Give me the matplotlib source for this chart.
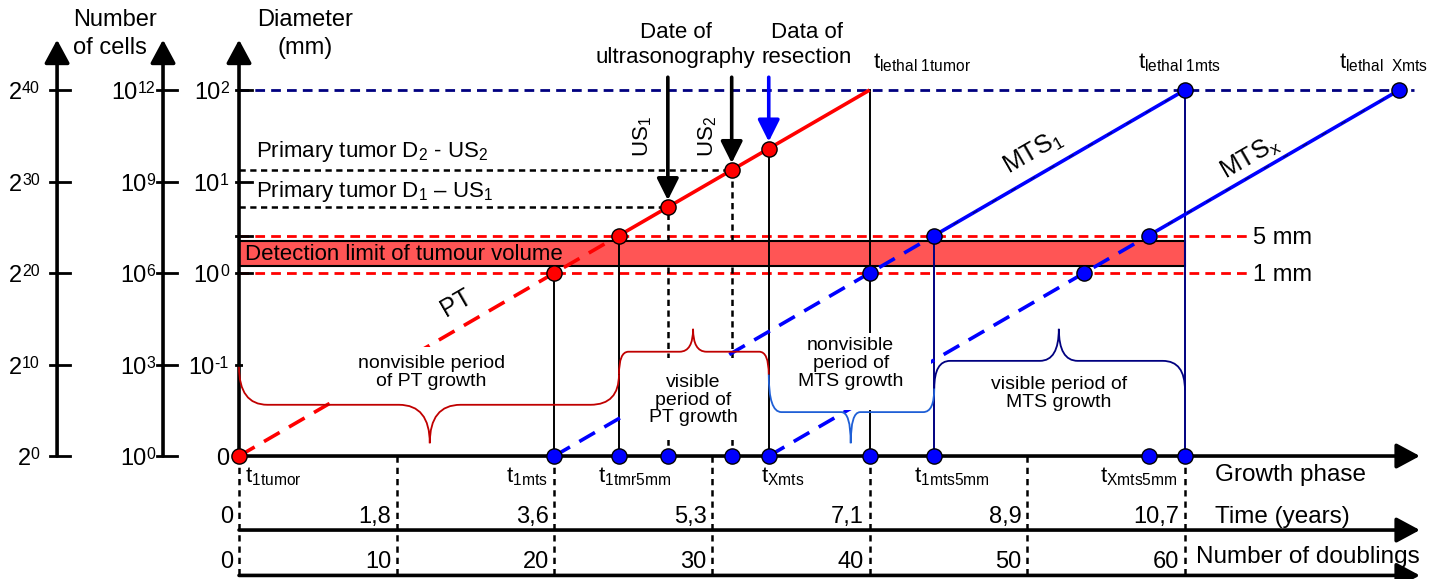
import matplotlib
matplotlib.use('Agg')
import matplotlib.pyplot as plt
from matplotlib.path import Path
from matplotlib.patches import PathPatch, Rectangle

plt.rcParams['font.family'] = 'Liberation Sans'
plt.rcParams['mathtext.fontset'] = 'custom'
plt.rcParams['mathtext.rm'] = 'Liberation Sans'
plt.rcParams['mathtext.it'] = 'Liberation Sans:italic'
plt.rcParams['mathtext.bf'] = 'Liberation Sans:bold'

# horizontal scale: number of doublings, with the matching time in years
doubling_ticks = [0, 10, 20, 30, 40, 50, 60]
doubling_labels = ['0', '10', '20', '30', '40', '50', '60']
year_labels = ['0', '1,8', '3,6', '5,3', '7,1', '8,9', '10,7']

# vertical scale: log2 of the cell count
size_levels = [0, 10, 20, 30, 40]
pow2_exp = ['0', '10', '20', '30', '40']
cell_exp = ['0', '3', '6', '9', '12']
diam_exp = [None, '-1', '0', '1', '2']

one_mm = 20.0
five_mm = 24.1
lethal = 40.0
band_lo, band_hi = 20.8, 23.5

# onset of each tumour (doublings)
pt_start = 0.0
mts1_start = 20.0
mtsx_start = 33.6

# examinations on the primary tumour
us1 = 27.2
us2 = 31.25
resection = 33.6

RED = '#ff0000'
DARKRED = '#c00000'
BLUE = '#0000ff'
NAVY = '#000080'
MIDBLUE = '#1f5fd6'

fig = plt.figure(figsize=(14.38, 5.79), dpi=100)
ax = fig.add_axes([0, 0, 1, 1])
ax.set_xlim(-15.16, 76.05)
ax.set_ylim(-13.44, 49.84)
ax.axis('off')
renderer = fig.canvas.get_renderer()

POW2_X = -11.54
CELLS_X = -4.82
AXIS_TOP = 45.5
AXIS_RIGHT = 74.9
TIME_Y = -8.09
DBL_Y = -13.05
SUP_RAISE = 0.66


def arrow(x0, y0, x1, y1, color='k', lw=2.4, hl=1.0, hw=0.55, scale=11, shrink=0, z=3):
    ax.annotate('', xy=(x1, y1), xytext=(x0, y0),
                arrowprops=dict(arrowstyle=f'-|>,head_length={hl},head_width={hw}',
                                color=color, lw=lw, mutation_scale=scale,
                                shrinkA=0, shrinkB=shrink), zorder=z)


def power_label(x_right, y_base, base, exp):
    """Right-aligned 'base^exp' with the exponent top-aligned to the base."""
    if exp is None:
        ax.text(x_right, y_base, base, ha='right', va='baseline', fontsize=17)
        return
    s = ax.text(x_right, y_base + SUP_RAISE, exp, ha='right', va='baseline', fontsize=11.5)
    w = s.get_window_extent(renderer).width
    xp, yp = ax.transData.transform((x_right, y_base))
    xb = ax.transData.inverted().transform((xp - w, yp))[0]
    ax.text(xb, y_base, base, ha='right', va='baseline', fontsize=17)


def brace(x0, y0, x1, y1, ylev, xc, ytip, r0, r1, rc, color):
    verts = [(x0, y0), (x0, ylev), (x0 + r0, ylev),
             (xc - rc, ylev),
             (xc, ylev), (xc, ytip),
             (xc, ylev), (xc + rc, ylev),
             (x1 - r1, ylev),
             (x1, ylev), (x1, y1)]
    codes = [Path.MOVETO, Path.CURVE3, Path.CURVE3, Path.LINETO,
             Path.CURVE3, Path.CURVE3, Path.CURVE3, Path.CURVE3,
             Path.LINETO, Path.CURVE3, Path.CURVE3]
    ax.add_patch(PathPatch(Path(verts, codes), fill=False, ec=color, lw=1.3, zorder=5))


# vertical axes
for xa in (POW2_X, CELLS_X, 0):
    arrow(xa, 0, xa, AXIS_TOP, lw=2.6, hl=1.3, hw=0.7)
for lev, e2, ec, ed in zip(size_levels, pow2_exp, cell_exp, diam_exp):
    ax.plot([POW2_X - 0.45, POW2_X + 0.85], [lev, lev], color='k', lw=2)
    ax.plot([CELLS_X - 0.4, CELLS_X + 0.9], [lev, lev], color='k', lw=2)
    if lev > 0:
        ax.plot([-0.2, 0.8], [lev, lev], color='k', lw=2)
    power_label(POW2_X - 1.1, lev - 1.0, '2', e2)
    power_label(CELLS_X - 0.5, lev - 1.0, '10', ec)
    power_label(-0.65, lev - 1.0, '10' if ed is not None else '0', ed)
ax.plot([-0.2, 0.8], [five_mm, five_mm], color='k', lw=2)

ax.text(-10.5, 47.6, 'Number', ha='left', va='center', fontsize=17)
ax.text(-10.5, 44.6, 'of cells', ha='left', va='center', fontsize=17)
ax.text(4.2, 47.6, 'Diameter', ha='center', va='center', fontsize=17)
ax.text(4.2, 44.6, '(mm)', ha='center', va='center', fontsize=17)

# horizontal axes
for ya in (0, TIME_Y, DBL_Y):
    arrow(0, ya, AXIS_RIGHT, ya, lw=2.6, hl=1.3, hw=0.7)
for d, yl, dl in zip(doubling_ticks, year_labels, doubling_labels):
    ax.plot([d, d], [0, -14], color='k', lw=1.8, ls=(0, (2.5, 2)), zorder=1)
    ax.text(d - 0.35, -7.32, yl, ha='right', va='baseline', fontsize=17)
    ax.text(d - 0.35, -12.2, dl, ha='right', va='baseline', fontsize=17)
ax.text(61.9, -2.73, 'Growth phase', ha='left', va='baseline', fontsize=17.5)
ax.text(61.9, -7.32, 'Time (years)', ha='left', va='baseline', fontsize=17.5)
ax.text(60.7, -11.7, 'Number of doublings', ha='left', va='baseline', fontsize=17.5)

# reference levels
ax.plot([0, AXIS_RIGHT - 0.4], [lethal, lethal], color=NAVY, lw=2, ls=(0, (3.5, 2.2)), zorder=1)
for lev, lab in ((five_mm, '5 mm'), (one_mm, '1 mm')):
    ax.plot([0, 64.0], [lev, lev], color=RED, lw=2, ls=(0, (3.5, 2.2)), zorder=1)
    ax.text(64.3, lev - 0.9, lab, ha='left', va='baseline', fontsize=17)
ax.add_patch(Rectangle((0, band_lo), mts1_start + lethal, band_hi - band_lo,
                       fc='#ff5555', ec='k', lw=1.5, zorder=1.5))
ax.text(0.4, 21.45, 'Detection limit of tumour volume', ha='left', va='baseline', fontsize=16, zorder=6)

# ultrasonography levels of the primary tumour
for us in (us1, us2):
    ax.plot([0, us - pt_start], [us, us], color='k', lw=1.8, ls=(0, (2.5, 1.8)), zorder=1)
    ax.plot([us, us], [0, us - pt_start], color='k', lw=1.8, ls=(0, (2.5, 1.8)), zorder=1)
ax.text(1.1, us2 + 1.4, 'Primary tumor D$_\\mathregular{2}$ - US$_\\mathregular{2}$',
        ha='left', va='baseline', fontsize=16)
ax.text(1.1, us1 + 1.1, 'Primary tumor D$_\\mathregular{1}$ \u2013 US$_\\mathregular{1}$',
        ha='left', va='baseline', fontsize=16)

# drop lines to the growth-phase axis
for xd, yd, c in ((pt_start + one_mm, one_mm, 'k'), (pt_start + five_mm, five_mm, 'k'),
                  (resection, resection - pt_start, 'k'), (pt_start + lethal, lethal, 'k'),
                  (mts1_start + five_mm, five_mm, NAVY), (mts1_start + lethal, lethal, NAVY)):
    ax.plot([xd, xd], [0, yd], color=c, lw=1.4, zorder=1.6)

# growth lines: dashed while below 5 mm, solid above
for start, c in ((pt_start, RED), (mts1_start, BLUE), (mtsx_start, BLUE)):
    ax.plot([start, start + five_mm], [0, five_mm], color=c, lw=2.6,
            ls=(0, (5, 3)), zorder=2)
    ax.plot([start + five_mm, start + lethal], [five_mm, lethal], color=c, lw=2.6,
            solid_capstyle='butt', zorder=2)
    if c == BLUE:
        ax.plot([start + five_mm, start + lethal], [five_mm, lethal], color=NAVY, lw=1.0,
                ls=(0, (4, 12)), zorder=2.1)

# white backgrounds behind the period captions
for x0, y0, x1, y1 in ((0.25, 5.9, 19.5, 11.9), (24.4, 1.7, 33.4, 10.7),
                       (33.8, 5.0, 43.9, 13.5)):
    ax.add_patch(Rectangle((x0, y0), x1 - x0, y1 - y0, fc='white', ec='none', zorder=3))

# braces for visible / nonvisible periods
brace(pt_start, 9.75, pt_start + five_mm, 8.9, 5.6, 12.1, 1.4, 1.8, 1.8, 1.95, DARKRED)
brace(pt_start + five_mm, 8.9, resection, 8.9, 11.4, 28.8, 13.9, 0.6, 0.6, 0.85, DARKRED)
brace(resection, 8.9, mts1_start + five_mm, 7.4, 4.8, 38.8, 1.4, 0.8, 0.7, 0.6, MIDBLUE)
brace(mts1_start + five_mm, 7.4, mts1_start + lethal, 7.2, 10.4, 52.0, 13.9, 1.0, 1.4, 1.2, NAVY)

ax.text(12.2, 9.15, 'nonvisible period\nof PT growth', ha='center', va='center',
        fontsize=14, linespacing=1.05, zorder=6)
ax.text(28.8, 6.1, 'visible\nperiod of\nPT growth', ha='center', va='center',
        fontsize=14, linespacing=1.05, zorder=6)
ax.text(38.8, 10.1, 'nonvisible\nperiod of\nMTS growth', ha='center', va='center',
        fontsize=14, linespacing=1.05, zorder=6)
ax.text(52.0, 6.8, 'visible period of\nMTS growth', ha='center', va='center',
        fontsize=14, linespacing=1.05, zorder=6)

# series labels along the lines
ax.text(13.8, 16.7, 'PT', ha='center', va='center', rotation=30, fontsize=18)
ax.text(50.4, 33.1, 'MTS$_\\mathregular{1}$', ha='center', va='center', rotation=30, fontsize=18)
ax.text(64.1, 32.6, 'MTS$_\\mathregular{x}$', ha='center', va='center', rotation=30, fontsize=18)

# examination arrows
ARROW_TOP = 41.4
arrow(us1, ARROW_TOP, us1, us1 - pt_start, lw=2.6, hl=1.2, hw=0.6, scale=11, shrink=5, z=4)
arrow(us2, ARROW_TOP, us2, us2 - pt_start, lw=2.6, hl=1.2, hw=0.6, scale=11, shrink=5, z=4)
arrow(resection, ARROW_TOP, resection, resection - pt_start, color=BLUE, lw=2.6,
      hl=1.2, hw=0.6, scale=11, shrink=5, z=4)
ax.text(us1 - 1.6, 34.9, 'US$_\\mathregular{1}$', ha='center', va='center', rotation=90, fontsize=16)
ax.text(us2 - 1.5, 34.9, 'US$_\\mathregular{2}$', ha='center', va='center', rotation=90, fontsize=16)
ax.text(27.7, 45.7, 'Date of', ha='center', va='baseline', fontsize=16)
ax.text(27.7, 43.0, 'ultrasonography', ha='center', va='baseline', fontsize=16)
ax.text(36.0, 45.7, 'Data of', ha='center', va='baseline', fontsize=16)
ax.text(36.0, 43.0, 'resection', ha='center', va='baseline', fontsize=16)

# lethal time labels
ax.text(pt_start + lethal + 0.2, 42.4, '$\\mathregular{t_{lethal\\ 1tumor}}$', ha='left',
        va='baseline', fontsize=16)
ax.text(mts1_start + lethal - 3.0, 42.4, '$\\mathregular{t_{lethal\\ 1mts}}$', ha='left',
        va='baseline', fontsize=16)
ax.text(mtsx_start + lethal - 3.8, 42.4, '$\\mathregular{t_{lethal\\ \\ Xmts}}$', ha='left',
        va='baseline', fontsize=16)

# points on the lines
DOT = 120
pt_pts = [(pt_start + one_mm, one_mm), (pt_start + five_mm, five_mm), (us1, us1),
          (us2, us2), (resection, resection)]
mts_pts = [(mts1_start + one_mm, one_mm), (mts1_start + five_mm, five_mm),
           (mts1_start + lethal, lethal), (mtsx_start + one_mm, one_mm),
           (mtsx_start + five_mm, five_mm), (mtsx_start + lethal, lethal)]
ax.scatter([p[0] for p in pt_pts], [p[1] for p in pt_pts], s=DOT, c=RED, ec='k', lw=1, zorder=7)
ax.scatter([p[0] for p in mts_pts], [p[1] for p in mts_pts], s=DOT, c=BLUE, ec='k', lw=1, zorder=7)

# growth-phase milestones on the horizontal axis
phase_pts = [pt_start + one_mm, pt_start + five_mm, us1, us2, mtsx_start, pt_start + lethal,
             mts1_start + five_mm, mtsx_start + five_mm, mts1_start + lethal]
ax.scatter(phase_pts, [0] * len(phase_pts), s=DOT, c=BLUE, ec='k', lw=1, zorder=7)
ax.scatter([pt_start], [0], s=DOT, c=RED, ec='k', lw=1, zorder=7)

ax.text(pt_start + 0.4, -2.84, '$\\mathregular{t_{1tumor}}$', ha='left', va='baseline', fontsize=16)
ax.text(mts1_start - 0.45, -2.84, '$\\mathregular{t_{1mts}}$', ha='right', va='baseline', fontsize=16)
ax.text(pt_start + five_mm - 1.3, -2.84, '$\\mathregular{t_{1tmr5mm}}$', ha='left', va='baseline', fontsize=16)
ax.text(mtsx_start - 0.5, -2.84, '$\\mathregular{t_{Xmts}}$', ha='left', va='baseline', fontsize=16)
ax.text(mts1_start + five_mm - 1.3, -2.84, '$\\mathregular{t_{1mts5mm}}$', ha='left', va='baseline', fontsize=16)
ax.text(mts1_start + lethal - 0.5, -2.84, '$\\mathregular{t_{Xmts5mm}}$', ha='right', va='baseline', fontsize=16)

fig.savefig('out.png', dpi=100)
